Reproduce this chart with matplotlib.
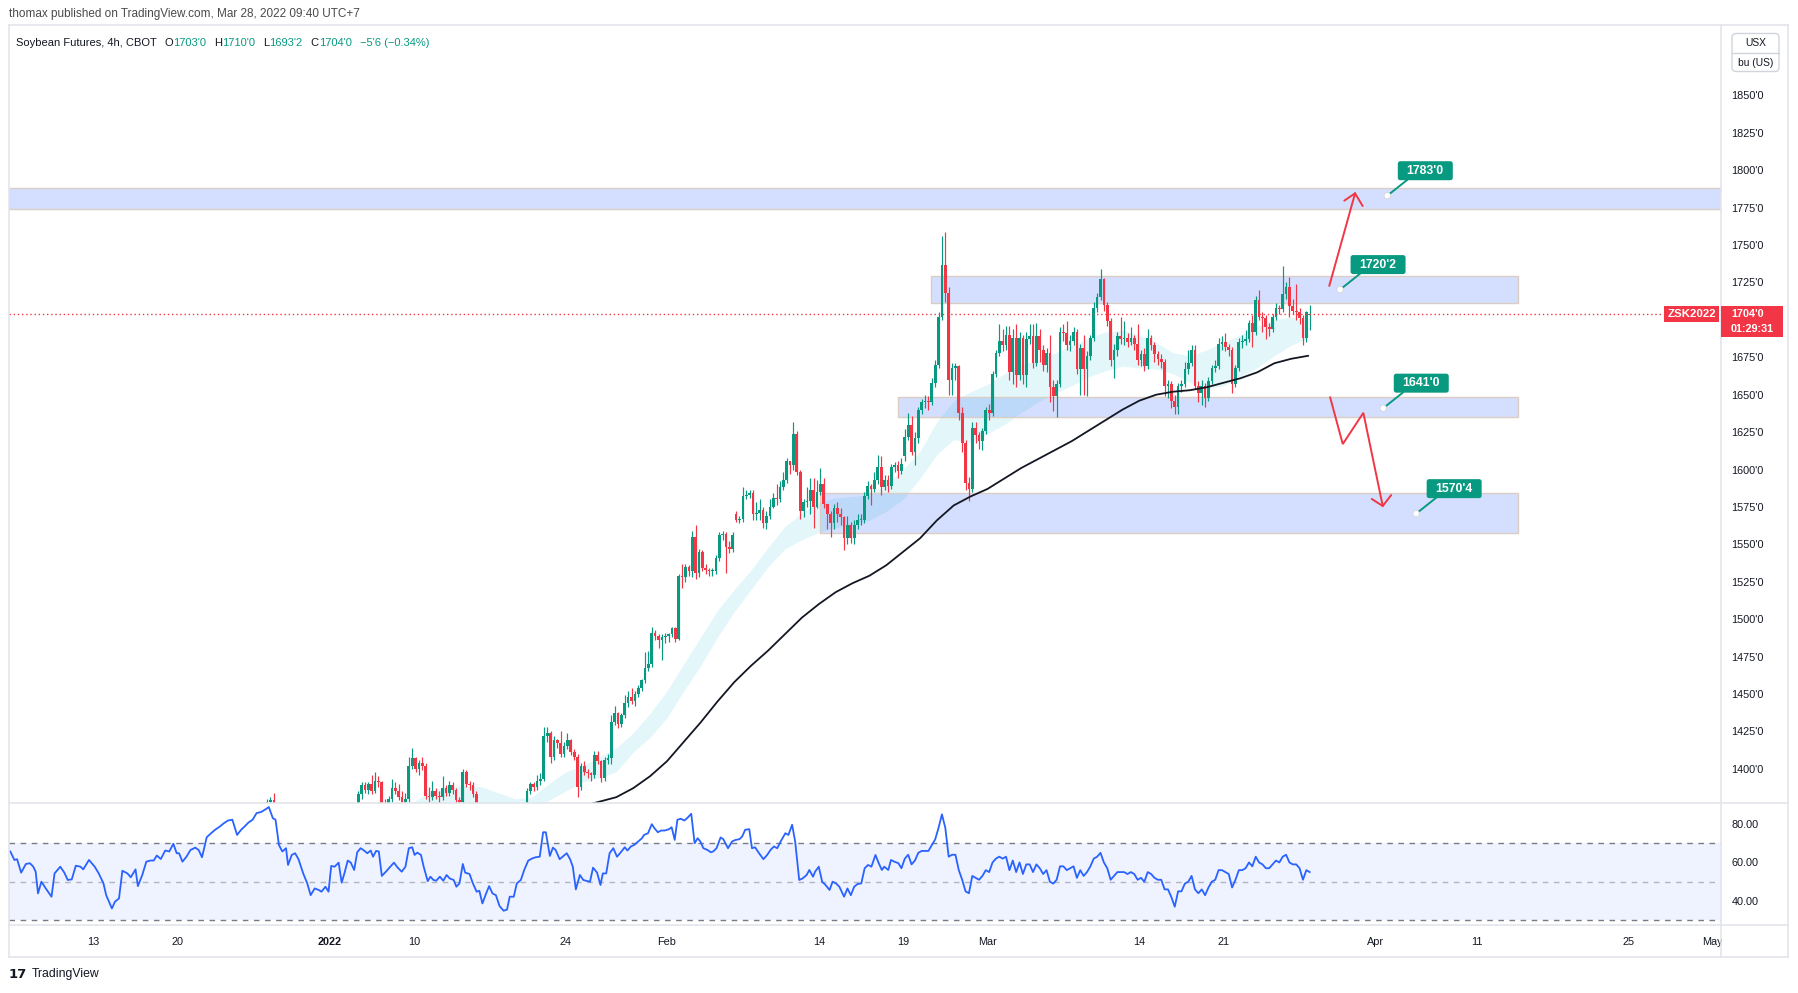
import numpy as np
import matplotlib
matplotlib.use("Agg")
import matplotlib.pyplot as plt
from matplotlib.patches import Rectangle, FancyBboxPatch, Circle
from matplotlib.lines import Line2D
from matplotlib.transforms import IdentityTransform

plt.rcParams['font.family'] = ['Liberation Sans', 'DejaVu Sans']

W, H = 1799, 993
UP, DOWN = '#089981', '#f23645'
TEXT = '#131722'
FRAME = '#e0e3eb'

# ---------------------------------------------------------------- data
# x unit = trading day (day 0 = Mon Dec 6, 2021), 5 four-hour bars per day
BARS_PER_DAY = 5
LAST_BAR = 385

opens = [
 1362,1366,1378,1379,1373,1375,1369,1363,1360,1364, 1361,1355,1352,1356,1354,1349,1351,1353,1358,1355,
 1350,1352,1360,1365,1362,1366,1369,1366,
 1370,1383,1389,1386,1390,1385,1392,1391,1377,1374, 1380,1387,1385,1381,1378,1380,1402,1407,1400,1404,
 1402,1382,1381,1385,1382,1381,1387,1384,1389,1386, 1379,1378,1398,1390,1389,1383,
 1375,1369,1363,1368,1374,1370,1364,1361,1363,1359, 1356,1360,1364,1368,
 1372,1385,1390,1388,1392,1393,1422,1424,1408,1419, 1417,1410,1415,1419,1411,1408,1388,1402,1398,1397,
 1396,1409,1405,1394,1406,1407,1431,1437,1430,1436, 1444,1448,1445,1450,1454,1459,1467,1470,1491,1489,
 1486,1488,1489,1490,1494,1487,1529,1528,1535,1532, 1555,1531,1545,1534,1533,
 1532,1532,1541,1556,1557,1548,1547,1570,1566,1567, 1582,1583,1584,1570,1571,1573,1564,1569,1575,1581,
 1580,1588,1593,1606,1603,1624,1598,1572,1578,1579, 1586,1575,1585,1590,1577,1570,1564,1574,1570,1568,
 1554,1563,1554,1563,1566,1566,1582,1589,1587,1593, 1602,1588,1593,1589,1602,1603,1599,1609,1622,1630,
 1612,1621,
 1640,1645,1646,1645,1658,1670,1702,1737,1718,1660, 1668,1669,1638,1618,1591,1587,1628,1623,1619,1626,
 1640,1638,1664,1678,1686,1683,1690,1665,1688,1663, 1688,1663,1687,1689,1671,1689,1680,1670,1678,1655,
 1649,1657,1692,1691,1683,1686,1692,1667,1681,1667, 1676,1688,1708,1715,1727,1710,1699,1673,1680,1689,
 1687,1688,1685,1688,1684,1673,1677,1669,1688,1683, 1677,1674,1672,1656,1657,1646,1642,1656,1657,1667,
 1671,1680,1656,1651,1656,1648,1659,1668,1669,1684, 1685,1682,1680,1657,1668,1685,1686,1687,1698,1692,
 1713,1702,1701,1695,1694,1702,1708,1707,1717,1722, 1709,1706,1705,1701,1688,1703]

highs = [
 1370,1380,1381,1384,1377,1376,1372,1368,1366,1369, 1364,1360,1358,1362,1359,1355,1357,1360,1364,1360,
 1356,1362,1368,1371,1368,1372,1374,1373,
 1385,1391,1391,1391,1396,1398,1395,1392,1380,1382, 1393,1391,1390,1385,1384,1408,1414,1408,1406,1408,
 1404,1388,1392,1387,1385,1395,1389,1392,1391,1387, 1381,1400,1399,1392,1391,1385,
 1377,1372,1370,1377,1376,1373,1369,1366,1368,1364, 1362,1366,1370,1377,
 1387,1391,1391,1396,1397,1428,1428,1425,1422,1420, 1425,1418,1424,1420,1413,1410,1404,1405,1400,1398,
 1412,1412,1406,1408,1410,1436,1442,1438,1437,1449, 1452,1454,1452,1456,1460,1478,1479,1495,1493,1490,
 1490,1491,1491,1495,1495,1530,1537,1537,1536,1559, 1563,1547,1546,1537,1534,
 1534,1543,1558,1559,1558,1552,1558,1572,1569,1588, 1586,1586,1586,1578,1580,1575,1572,1580,1584,1590,
 1592,1598,1608,1606,1632,1626,1600,1580,1588,1594, 1594,1593,1601,1594,1577,1572,1577,1578,1574,1569,
 1569,1565,1566,1570,1570,1585,1592,1590,1598,1610, 1609,1596,1596,1604,1605,1606,1608,1627,1638,1636,
 1625,1642,
 1647,1650,1649,1661,1673,1705,1756,1759,1722,1671, 1671,1670,1642,1620,1595,1632,1632,1625,1628,1642,
 1644,1666,1680,1697,1694,1696,1696,1694,1697,1692, 1690,1692,1697,1697,1698,1694,1683,1681,1690,1660,
 1660,1695,1697,1699,1690,1695,1694,1684,1690,1679, 1690,1712,1718,1734,1728,1712,1701,1684,1692,1702,
 1699,1691,1695,1690,1697,1680,1681,1694,1690,1685, 1679,1677,1674,1660,1659,1650,1658,1660,1672,1680,
 1683,1683,1659,1660,1658,1662,1670,1673,1688,1689, 1691,1684,1682,1670,1688,1690,1693,1700,1703,1716,
 1720,1705,1703,1698,1704,1711,1710,1736,1725,1729, 1714,1724,1708,1703,1706,1710]

lows = [
 1358,1364,1372,1370,1368,1366,1360,1356,1354,1358, 1352,1349,1347,1350,1346,1343,1345,1349,1352,1348,
 1344,1350,1356,1360,1357,1361,1363,1362,
 1368,1380,1384,1383,1383,1384,1388,1372,1370,1372, 1378,1383,1379,1376,1375,1378,1400,1398,1396,1399,
 1380,1378,1379,1380,1376,1379,1382,1382,1383,1377, 1374,1372,1388,1386,1381,1372,
 1366,1360,1359,1364,1366,1361,1358,1355,1357,1352, 1351,1356,1361,1365,
 1370,1383,1385,1386,1389,1392,1418,1404,1406,1414, 1408,1408,1413,1409,1406,1381,1386,1396,1394,1392,
 1394,1403,1391,1392,1403,1403,1429,1427,1428,1434, 1441,1443,1442,1448,1452,1457,1465,1468,1486,1481,
 1473,1484,1485,1488,1485,1486,1521,1525,1529,1528, 1527,1528,1532,1530,1529,
 1529,1530,1539,1553,1531,1544,1545,1565,1564,1565, 1580,1581,1566,1566,1566,1561,1560,1567,1574,1576,
 1578,1586,1591,1597,1600,1596,1567,1568,1575,1570, 1561,1574,1583,1574,1560,1555,1560,1565,1563,1546,
 1550,1551,1550,1560,1563,1564,1580,1576,1585,1590, 1583,1586,1585,1587,1598,1594,1597,1606,1620,1610,
 1603,1618,
 1637,1641,1640,1643,1655,1668,1700,1712,1650,1650, 1660,1633,1612,1586,1579,1585,1618,1614,1613,1624,
 1633,1636,1662,1676,1679,1680,1660,1657,1655,1660, 1657,1655,1684,1668,1669,1672,1666,1665,1645,1639,
 1635,1655,1686,1680,1679,1683,1664,1650,1650,1649, 1673,1686,1705,1713,1706,1696,1669,1661,1676,1684,
 1683,1682,1683,1680,1670,1669,1666,1667,1680,1672, 1670,1668,1649,1648,1641,1637,1637,1652,1655,1664,
 1669,1654,1645,1643,1642,1646,1657,1665,1667,1680, 1679,1676,1651,1655,1666,1681,1683,1685,1682,1690,
 1700,1692,1687,1689,1692,1700,1704,1705,1714,1702, 1704,1700,1697,1683,1685,1693.25]

closes = [
 1366,1378,1379,1373,1375,1369,1363,1360,1364,1361, 1355,1352,1356,1354,1349,1351,1353,1358,1355,1350,
 1352,1360,1365,1362,1366,1369,1366,1370,
 1383,1389,1386,1390,1385,1392,1391,1377,1374,1380, 1387,1385,1381,1378,1380,1402,1407,1400,1404,1402,
 1382,1381,1385,1382,1381,1387,1384,1389,1386,1379, 1378,1398,1390,1389,1383,1375,
 1369,1363,1368,1374,1370,1364,1361,1363,1359,1356, 1360,1364,1368,1372,
 1385,1390,1388,1392,1393,1422,1424,1408,1419,1417, 1410,1415,1419,1411,1408,1388,1402,1398,1397,1396,
 1409,1405,1394,1406,1407,1431,1437,1430,1436,1444, 1448,1445,1450,1454,1459,1467,1470,1491,1489,1486,
 1488,1489,1490,1494,1487,1529,1528,1535,1532,1555, 1531,1545,1534,1533,1532,
 1532,1541,1556,1557,1548,1547,1556,1566,1567,1582, 1583,1584,1570,1571,1573,1564,1569,1575,1581,1580,
 1588,1593,1606,1603,1624,1598,1572,1578,1579,1586, 1575,1585,1590,1577,1570,1564,1574,1570,1568,1554,
 1563,1554,1563,1566,1566,1582,1589,1587,1593,1602, 1588,1593,1589,1602,1603,1599,1604,1622,1630,1612,
 1621,1640,
 1645,1646,1645,1658,1670,1702,1737,1718,1660,1668, 1669,1638,1618,1591,1587,1628,1623,1619,1626,1640,
 1638,1664,1678,1686,1683,1690,1665,1688,1663,1688, 1663,1687,1689,1671,1689,1680,1670,1678,1655,1649,
 1657,1692,1691,1683,1686,1692,1667,1681,1667,1676, 1688,1708,1715,1727,1710,1699,1673,1680,1689,1687,
 1688,1685,1688,1684,1673,1677,1669,1688,1683,1677, 1674,1672,1656,1657,1646,1642,1656,1657,1667,1671,
 1680,1656,1651,1656,1648,1659,1668,1669,1684,1685, 1682,1680,1657,1668,1685,1686,1687,1698,1692,1713,
 1702,1701,1695,1694,1702,1708,1707,1717,1722,1709, 1706,1705,1701,1688,1705,1704]

PREV_SETTLE = 1709.75
COUNTDOWN = "01:29:31"

# RSI(14): early readings with their time (in bar units), then one value per bar 264..385
rsi_early_bar = [
 -0.1,1.1,1.9,3.1,4.5,5.7,6.7,7.4,8.1,9.1, 10.4,12.1,13.0,14.7,15.9,16.9,18.1,19.3,20.7,21.5,
 23.2,24.9,26.1,27.5,28.3,30.0,30.9,32.1,33.1,34.6, 35.6,37.0,37.7,39.0,40.2,41.4,42.4,43.3,44.5,45.8,
 47.0,48.2,49.2,49.9,50.9,52.1,53.3,54.7,55.7,56.7, 58.1,59.4,60.6,62.0,63.2,64.4,65.7,67.1,68.3,69.5,
 70.5,71.7,72.9,74.2,75.6,76.5,77.7,78.5,79.5,80.5, 81.6,82.2,83.3,84.3,85.3,86.7,87.9,88.9,90.1,91.3,
 92.1,93.3,94.2,95.0,96.0,97.2,98.1,98.9,99.9,100.8, 101.8,102.7,103.7,104.5,105.7,106.7,107.4,108.3,109.1,110.0,
 111.2,112.5,113.6,114.6,115.9,117.0,118.0,119.0,119.7,120.5, 121.6,122.4,123.6,124.4,125.3,126.1,127.2,128.2,129.2,130.1,
 131.3,132.1,133.0,134.0,134.7,136.0,137.0,138.1,138.9,139.8, 141.0,141.8,142.8,143.8,144.9,146.1,147.1,147.9,149.1,150.0,
 151.2,152.2,153.4,154.7,155.6,156.8,157.8,158.6,159.8,160.7, 161.5,162.7,163.6,164.8,165.8,166.6,167.5,168.7,169.7,170.9,
 171.7,172.6,173.8,174.8,175.5,176.5,177.5,178.6,179.7,180.6, 182.0,182.8,183.8,184.8,186.0,187.1,187.7,188.9,190.0,190.8,
 191.8,192.8,193.9,195.1,195.9,196.8,197.6,198.6,199.7,200.7, 201.7,202.7,203.6,204.4,205.3,206.5,207.5,208.2,209.2,210.4,
 211.2,212.6,213.8,214.8,216.0,216.8,217.7,218.9,219.7,220.6, 221.8,223.1,224.2,225.2,226.2,227.2,228.2,229.6,230.5,231.6,
 232.5,233.7,234.7,235.9,236.7,237.8,238.4,239.5,240.5,241.5, 242.7,243.6,244.6,245.6,247.0,248.0,249.0,250.0,251.0,252.1,
 253.1,254.1,255.1,256.3,257.2,258.2,258.9,260.1,260.9,261.9, 263.1]
rsi_early = [
 65.7,61.3,61.7,54.7,59.2,59.6,57.8,55.2,43.9,50.0, 46.5,42.2,54.3,57.8,54.7,50.9,51.2,58.3,57.8,56.4,
 61.3,57.8,54.3,49.1,43.0,36.1,39.6,41.3,55.7,54.3, 52.3,56.4,47.7,53.5,60.4,61.0,61.0,63.6,61.8,66.2,
 65.7,69.7,64.8,64.8,60.4,63.0,66.5,67.7,66.5,62.7, 73.1,75.2,77.0,78.7,80.4,81.8,82.2,74.3,77.0,79.0,
 80.8,82.2,85.7,86.2,87.7,88.8,83.0,82.2,69.1,65.7, 67.4,58.7,63.9,64.8,61.7,54.3,49.1,43.0,46.5,45.7,
 44.8,47.4,44.8,58.2,57.8,59.9,49.5,54.3,61.0,59.9, 56.1,65.3,67.4,66.5,64.8,66.2,63.0,66.0,65.7,53.0,
 55.2,57.8,59.9,57.5,55.2,57.8,67.4,67.9,63.9,65.1, 63.9,57.8,50.3,52.6,50.9,50.5,52.6,50.5,53.5,51.7,
 50.9,47.4,49.1,59.2,54.7,54.0,49.1,44.8,45.3,38.7, 44.3,47.7,43.9,43.0,37.3,34.9,35.5,42.2,42.2,49.1,
 50.9,56.1,61.0,62.2,62.7,63.0,75.7,75.7,63.4,67.7, 66.5,61.7,63.0,64.8,61.7,57.8,46.0,53.5,50.9,50.3,
 50.0,57.3,54.7,48.3,54.3,54.3,64.8,67.4,63.0,64.8, 67.9,66.2,68.3,69.1,70.9,72.6,74.3,75.2,79.9,77.8,
 75.7,76.6,76.6,77.3,78.3,71.7,82.2,82.7,81.8,83.4, 85.3,70.0,72.6,70.9,67.4,66.5,65.3,65.7,67.4,73.0,
 72.1,67.4,70.9,71.7,72.1,73.5,77.0,77.3,67.4,67.9, 64.8,61.7,63.9,66.5,68.3,67.4,70.9,75.2,74.3,79.6,
 70.9,50.9,51.7,53.5,56.1,52.6,55.2,57.8,50.0,48.3, 45.7,50.0,49.1,47.4,42.2,46.5,43.0,47.4,48.8,49.1,
 57.0,58.7,57.8,63.9,59.9,56.1,57.8,56.1,61.3,60.4, 59.6]
RSI_LATE_FIRST_BAR = 264
rsi_late = [
 57,62,64,59,61,65,66,66,66,69, 72,78,85,78,63,64,64,56,51,45,
 44,53,52,51,53,56,55,60,62,63, 62,63,56,61,55,60,54,59,59,55,
 59,57,54,56,50,49,51,58,58,56, 57,58,52,56,53,55,58,62,63,65,
 60,57,51,53,55,55,55,54,55,54, 51,52,50,55,54,52,51,51,46,46,
 42,37,45,45,49,50,53,46,44,46, 43,47,50,51,56,56,55,54,47,51,
 56,56,57,60,58,63,60,59,57,57, 59,61,60,63,64,60,59,59,57,51,
 56,55]

# long moving average (one value per trading day)
MA_START_DAY = 33
ma_line = [1370,1375,1378,1381,1387,1395,1405,1418,1431,1445,1458,1469,1479,1490,1501,1510,
           1518,1524,1529,1536,1545,1554,1566,1576,1582,1587,1594,1601,1607,1613,1619,1626,
           1633,1640,1646,1650,1652,1653,1655,1658,1661,1665,1671,1674,1676]

# light cloud band (one value per trading day)
BAND_START_DAY = 23
band_upper = [1372,1378,1385,1388,1389,1388,1384,1380,1381,1390,1398,1402,1408,1414,1424,1437,
              1452,1470,1488,1506,1520,1533,1548,1562,1571,1578,1581,1582,1583,1590,1600,1612,
              1632,1646,1652,1657,1664,1670,1673,1678,1683,1688,1692,1693,1690,1685,1678,1676,
              1680,1685,1690,1696,1700,1702,1700]
band_lower = [1355,1358,1360,1362,1364,1366,1367,1368,1372,1379,1385,1391,1394,1398,1411,1421,
              1434,1452,1469,1488,1505,1520,1535,1547,1553,1558,1561,1563,1566,1572,1580,1594,
              1610,1620,1618,1624,1630,1638,1645,1651,1656,1662,1666,1669,1668,1667,1664,1658,
              1654,1656,1662,1668,1676,1683,1688]

# drawn zones: (start day, end day, low, high); first one spans the whole chart
zone_start = [-5.0, 54.65, 52.72, 48.07]
zone_end = [120.0, 89.47, 89.47, 89.47]
zone_low = [1774.0, 1711.1, 1634.9, 1557.4]
zone_high = [1788.4, 1729.5, 1648.7, 1584.1]

# price callouts (anchor day, price level)
callout_day = [81.70, 78.90, 81.46, 83.41]
callout_price = [1783.0, 1720.25, 1641.0, 1570.5]

# hand-drawn red arrows (day, price)
up_path_d, up_path_p = [78.26, 79.79], [1722.7, 1784.6]
up_head_d, up_head_p = [79.15, 79.79, 80.24], [1779.7, 1784.6, 1776.1]
dn_path_d, dn_path_p = [78.31, 79.06, 80.28, 81.43], [1648.3, 1617.0, 1637.9, 1575.6]
dn_head_d, dn_head_p = [80.78, 81.43, 81.93], [1580.3, 1575.6, 1582.9]

# axes
time_tick_days = [5, 10, 19, 24, 33, 39, 48, 53, 58, 67, 72, 81, 87, 96, 101]
time_tick_labels = ['13', '20', '2022', '10', '24', 'Feb', '14', '19', 'Mar', '14', '21',
                    'Apr', '11', '25', 'May']
price_ticks = [v for v in range(1400, 1851, 25) if v != 1700]
rsi_ticks = [40, 60, 80]
X_RANGE = (0.0, 101.48)
PRICE_RANGE = (1377.1, 1897.1)
RSI_RANGE = (27.5, 90.9)


def fmt_price(v):
    whole = int(np.floor(v + 1e-9))
    eighth = int(round((v - whole) * 8))
    return f"{whole}'{eighth}"


# ---------------------------------------------------------------- figure
fig = plt.figure(figsize=(W / 100, H / 100), dpi=100)
fig.patch.set_facecolor('white')


def box(l, t, r, b):
    return [l / W, 1 - b / H, (r - l) / W, (b - t) / H]


ax = fig.add_axes(box(9, 25, 1721, 803))
rx = fig.add_axes(box(9, 803, 1721, 925))
for a in (ax, rx):
    for s in a.spines.values():
        s.set_visible(False)
    a.set_facecolor('white')
    a.set_xlim(*X_RANGE)

ax.set_ylim(*PRICE_RANGE)
rx.set_ylim(*RSI_RANGE)

# band
bd = BAND_START_DAY + np.arange(len(band_upper))
ax.fill_between(bd, band_lower, band_upper, color='#00bcd4', alpha=0.11, lw=0, zorder=1)

# zones
for d0, d1, lo, hi in zip(zone_start, zone_end, zone_low, zone_high):
    ax.add_patch(Rectangle((d0, lo), d1 - d0, hi - lo, facecolor=(41 / 255, 98 / 255, 1.0, 0.2),
                           edgecolor='#d9cdc4', lw=1.0, zorder=2))

# candles
o, h, l, c = (np.array(v, dtype=float) for v in (opens, highs, lows, closes))
n = len(c)
bars = np.arange(LAST_BAR - n + 1, LAST_BAR + 1)
xb = (bars + 0.5) / BARS_PER_DAY
cols = np.where(c >= o, UP, DOWN)
ax.vlines(xb, l, h, colors=cols, lw=0.85, zorder=4)
ax.bar(xb, np.maximum(np.abs(c - o), 0.8), bottom=np.minimum(o, c), width=0.16,
       color=cols, lw=0, zorder=5)

# moving average
md = MA_START_DAY + np.arange(len(ma_line))
ax.plot(md, ma_line, color='#131722', lw=1.3, zorder=6)

# last price line
ax.axhline(c[-1], xmin=0, xmax=(1663 - 9) / 1712, color=DOWN, lw=1.0, ls=(0, (1, 2)), zorder=7)

# red arrows
for dd, pp in ((up_path_d, up_path_p), (up_head_d, up_head_p), (dn_path_d, dn_path_p),
               (dn_head_d, dn_head_p)):
    ax.plot(dd, pp, color=DOWN, lw=1.4, zorder=8, solid_capstyle='round', solid_joinstyle='miter')

# price axis
ax.set_xticks([])
ax.yaxis.tick_right()
ax.set_yticks(price_ticks)
ax.set_yticklabels([fmt_price(v) for v in price_ticks])
ax.tick_params(axis='y', length=0, pad=7.5, labelsize=7.8, labelcolor=TEXT)

# RSI pane
x_rsi = np.concatenate([
    (np.array(rsi_early_bar) + 0.5) / BARS_PER_DAY,
    (np.arange(RSI_LATE_FIRST_BAR, RSI_LATE_FIRST_BAR + len(rsi_late)) + 0.5) / BARS_PER_DAY])
y_rsi = np.concatenate([rsi_early, rsi_late])
rx.axhspan(30, 70, color=(41 / 255, 98 / 255, 1.0, 0.07), lw=0, zorder=1)
rx.axhline(70, color='#787b86', lw=1.0, ls=(0, (4, 4)), zorder=2)
rx.axhline(50, color='#b2b5be', lw=1.0, ls=(0, (4, 4)), zorder=2)
rx.axhline(30, color='#787b86', lw=1.0, ls=(0, (4, 4)), zorder=2)
rx.plot(x_rsi, y_rsi, color='#2962ff', lw=1.3, zorder=3)
rx.yaxis.tick_right()
rx.set_yticks(rsi_ticks)
rx.set_yticklabels([f"{v:.2f}" for v in rsi_ticks])
rx.tick_params(axis='y', length=0, pad=7.5, labelsize=7.8, labelcolor=TEXT)
rx.set_xticks(time_tick_days)
rx.set_xticklabels(time_tick_labels)
rx.tick_params(axis='x', length=0, pad=8.5, labelsize=7.8, labelcolor=TEXT)
for lab in rx.get_xticklabels():
    if lab.get_text() == '2022':
        lab.set_fontweight('bold')

# ---------------------------------------------------------------- overlays (pixel space)
IT = IdentityTransform()


def Y(top_px):
    return H - top_px


def line_px(xs, ys_top, color=FRAME, lw=1.1, z=30):
    fig.add_artist(Line2D(xs, [Y(v) for v in ys_top], color=color, lw=lw, transform=IT, zorder=z))


# cover under price axis in the time row (clips "May")
fig.add_artist(Rectangle((1722, Y(956)), 65, 30, transform=IT, fc='white', ec='none', zorder=25))

# frame
line_px([9, 1788], [25, 25])
line_px([9, 1788], [957, 957])
line_px([9, 9], [25, 957])
line_px([1788, 1788], [25, 957])
line_px([1721, 1721], [25, 957])
line_px([9, 1788], [803, 803])
line_px([9, 1788], [925, 925])

# callouts
for d, p in zip(callout_day, callout_price):
    X0, Y0 = ax.transData.transform((d, p))
    fig.add_artist(Line2D([X0, X0 + 19.5], [Y0, Y0 + 15.5], color=UP, lw=1.4, transform=IT, zorder=40))
    fig.add_artist(FancyBboxPatch((X0 + 10.5, Y0 + 15.5), 55, 19,
                                  boxstyle='round,pad=0,rounding_size=2.5', transform=IT,
                                  fc=UP, ec='none', zorder=41))
    fig.text(X0 + 38, Y0 + 25, fmt_price(p), transform=IT, ha='center', va='center',
             color='white', fontsize=8.8, fontweight='bold', zorder=42)
    fig.add_artist(Circle((X0, Y0), 3.2, transform=IT, fc='white', ec='#d6d6d6', lw=0.6, zorder=43))

# last price labels
_, Yc = ax.transData.transform((0, c[-1]))
fig.add_artist(Rectangle((1664, Yc - 8), 55, 16, transform=IT, fc=DOWN, ec='none', zorder=40))
fig.text(1691.5, Yc, 'ZSK2022', transform=IT, ha='center', va='center', color='white',
         fontsize=8.2, fontweight='bold', zorder=42)
fig.add_artist(Rectangle((1721, Yc - 23), 62, 31, transform=IT, fc=DOWN, ec='none', zorder=40))
fig.text(1731, Yc, fmt_price(c[-1]), transform=IT, ha='left', va='center', color='white',
         fontsize=7.8, fontweight='bold', zorder=42)
fig.text(1731, Yc - 15, COUNTDOWN, transform=IT, ha='left', va='center', color='white',
         fontsize=7.8, fontweight='bold', zorder=42)

# currency box
fig.add_artist(FancyBboxPatch((1732, Y(71.5)), 47, 38, boxstyle='round,pad=0,rounding_size=4',
                              transform=IT, fc='white', ec='#d1d4dc', lw=1.0, zorder=40))
fig.add_artist(Line2D([1732, 1779], [Y(52.5), Y(52.5)], color='#d1d4dc', lw=1.0, transform=IT, zorder=41))
fig.text(1755.5, Y(43), 'USX', transform=IT, ha='center', va='center', color=TEXT, fontsize=7.4, zorder=42)
fig.text(1755.5, Y(62.5), 'bu (US)', transform=IT, ha='center', va='center', color=TEXT, fontsize=7.4, zorder=42)

# header
fig.text(9, Y(14), 'thomax published on TradingView.com, Mar 28, 2022 09:40 UTC+7', transform=IT,
         ha='left', va='center', color='#4a4a4a', fontsize=8.5)

# legend line
renderer = fig.canvas.get_renderer()
chg = c[-1] - PREV_SETTLE
sign = '\u2212' if chg < 0 else '+'
chg_txt = sign + fmt_price(abs(chg)) + f" ({sign}{abs(chg) / PREV_SETTLE * 100:.2f}%)"
segments = [('Soybean Futures, 4h, CBOT', TEXT, 0), ('O', TEXT, 8), (fmt_price(o[-1]), UP, 0),
            ('H', TEXT, 8), (fmt_price(h[-1]), UP, 0), ('L', TEXT, 8), (fmt_price(l[-1]), UP, 0),
            ('C', TEXT, 8), (fmt_price(c[-1]), UP, 0), (chg_txt, UP, 8)]
xcur = 16
for s, col, gap in segments:
    xcur += gap
    t = fig.text(xcur, Y(43), s, transform=IT, ha='left', va='center', color=col, fontsize=8.0)
    xcur += t.get_window_extent(renderer=renderer).width

# footer logo
fig.text(9, Y(974), '17', transform=IT, ha='left', va='center', color=TEXT, fontsize=9.5,
         fontweight='bold', family=['DejaVu Sans'])
fig.text(32, Y(974), 'TradingView', transform=IT, ha='left', va='center', color=TEXT, fontsize=8.8)

fig.savefig('out.png', dpi=100, facecolor='white')
